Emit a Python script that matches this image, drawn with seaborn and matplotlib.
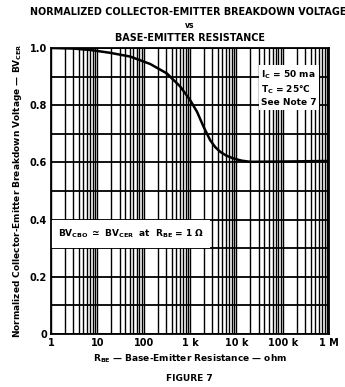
import numpy as np
import pandas as pd
import seaborn as sns
import matplotlib.pyplot as plt
from matplotlib.patches import Rectangle

# curve (ohm vs normalized BV_CER)
r_be = [1, 3, 7, 19, 51, 138, 316, 614, 1000, 1410, 1950, 2700, 3500, 4470, 6000,
        8500, 13000, 20000, 100000, 1000000]
bv_norm = [1.0, 0.998, 0.993, 0.983, 0.970, 0.944, 0.911, 0.865, 0.818, 0.777, 0.725,
           0.678, 0.653, 0.637, 0.624, 0.614, 0.606, 0.602, 0.603, 0.605]

x_ticks = [1, 10, 100, 1000, 10000, 100000, 1000000]
x_labels = ['1', '10', '100', '1 k', '10 k', '100 k', '1 M']
y_ticks = [0, 0.2, 0.4, 0.6, 0.8, 1.0]
y_labels = ['0', '0.2', '0.4', '0.6', '0.8', '1.0']

df = pd.DataFrame({'r_be': r_be, 'bv': bv_norm})

sns.set_style('white')
plt.rcParams['font.family'] = ['DejaVu Sans']
plt.rcParams['font.weight'] = 'bold'
plt.rcParams['text.color'] = 'black'
plt.rcParams['axes.labelcolor'] = 'black'
plt.rcParams['xtick.color'] = 'black'
plt.rcParams['ytick.color'] = 'black'
plt.rcParams['mathtext.fontset'] = 'custom'
plt.rcParams['mathtext.rm'] = 'DejaVu Sans:bold'
plt.rcParams['mathtext.it'] = 'DejaVu Sans:bold'

fig = plt.figure(figsize=(3.45, 3.87), dpi=100)
ax = fig.add_axes([0.148, 0.137, 0.806, 0.739])

# log grid: decades plus 2..9
for d in range(6):
    for m in range(1, 10):
        ax.axvline(10 ** d * m, color='black', lw=1.0, zorder=1)
ax.axvline(1e6, color='black', lw=1.2, zorder=1)
for yv in np.arange(0, 1.01, 0.1):
    ax.axhline(yv, color='black', lw=1.3, zorder=1)

sns.lineplot(data=df, x='r_be', y='bv', color='black', lw=1.8, ax=ax, zorder=4)

ax.set_xscale('log')
ax.set_xlim(1, 1e6)
ax.set_ylim(0, 1.0)
ax.set_xticks(x_ticks)
ax.set_xticklabels(x_labels)
ax.xaxis.set_minor_locator(plt.NullLocator())
ax.set_yticks(y_ticks)
ax.set_yticklabels(y_labels)
ax.tick_params(length=0, labelsize=7, pad=3)
for lab in ax.get_xticklabels() + ax.get_yticklabels():
    lab.set_fontweight('bold')
for s in ax.spines.values():
    s.set_color('black')
    s.set_linewidth(1.3)

ax.set_xlabel(r'R$_{\rm BE}$ — Base-Emitter Resistance — ohm', fontsize=6.5, fontweight='bold', labelpad=3)
ax.set_ylabel(r'Normalized Collector-Emitter Breakdown Voltage — BV$_{\rm CER}$', fontsize=6.5, fontweight='bold', labelpad=4)

# white box for the BV_CBO note
ax.add_patch(Rectangle((1, 0.3), 2700 - 1, 0.1, facecolor='white', edgecolor='none', zorder=2))
ax.text(1.4, 0.35, r'BV$_{\rm CBO}$ $\simeq$ BV$_{\rm CER}$  at  R$_{\rm BE}$ = 1 $\Omega$',
        fontsize=6.5, fontweight='bold', va='center', ha='left', zorder=3)

ax.text(34000, 0.86, 'I$_{\\rm C}$ = 50 ma\nT$_{\\rm C}$ = 25°C\nSee Note 7', fontsize=6.5,
        fontweight='bold', va='center', ha='left', linespacing=1.3, zorder=3,
        bbox=dict(facecolor='white', edgecolor='none', pad=1.5))

fig.text(0.545, 0.968, 'NORMALIZED COLLECTOR-EMITTER BREAKDOWN VOLTAGE', ha='center', va='center', fontsize=6.9, fontweight='bold')
fig.text(0.55, 0.935, 'vs', ha='center', va='center', fontsize=5.5, fontweight='bold')
fig.text(0.55, 0.902, 'BASE-EMITTER RESISTANCE', ha='center', va='center', fontsize=6.9, fontweight='bold')
fig.text(0.55, 0.023, 'FIGURE 7', ha='center', va='center', fontsize=6.5, fontweight='bold')

fig.savefig('out.png', dpi=100)
